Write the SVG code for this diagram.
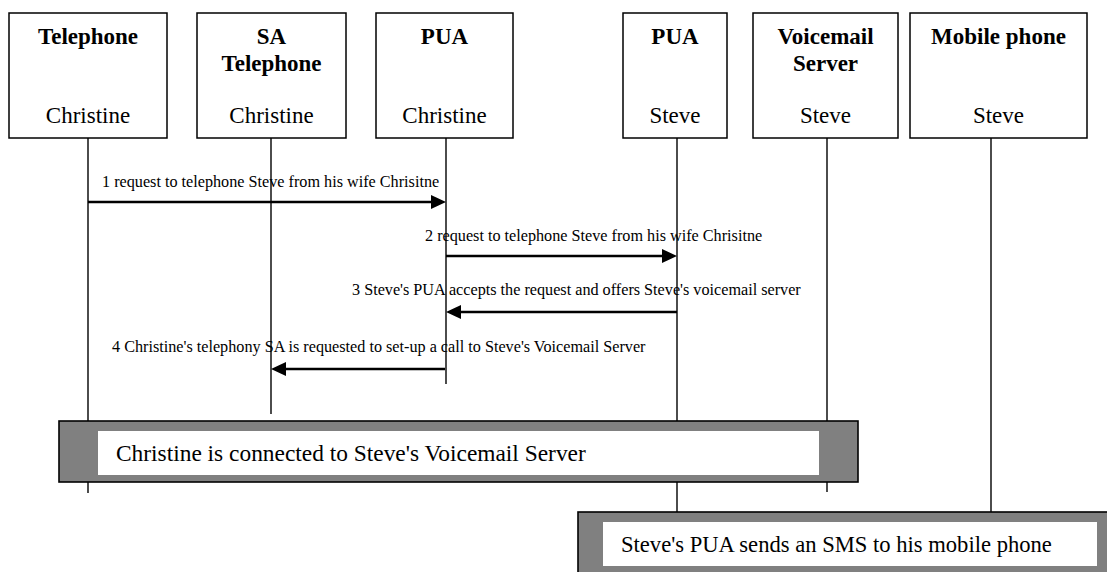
<svg xmlns="http://www.w3.org/2000/svg" width="1107" height="572" viewBox="0 0 1107 572">
  <style>
    .box { fill: #ffffff; stroke: #000000; stroke-width: 1.5; }
    .title { font-family: "Liberation Serif", "Times New Roman", serif; font-size: 23px; font-weight: bold; text-anchor: middle; fill: #000; }
    .who { font-family: "Liberation Serif", "Times New Roman", serif; font-size: 23px; text-anchor: middle; fill: #000; }
    .life { stroke: #000000; stroke-width: 1.4; fill: none; }
    .msg { stroke: #000000; stroke-width: 2.6; fill: none; marker-end: url(#head); }
    .lbl { font-family: "Liberation Serif", "Times New Roman", serif; font-size: 16.2px; fill: #000; }
    .band { fill: #808080; stroke: #000000; stroke-width: 1.6; }
    .bandin { fill: #ffffff; stroke: none; }
    .note { font-family: "Liberation Serif", "Times New Roman", serif; font-size: 23.4px; fill: #000; }
  </style>
  <defs>
    <marker id="head" markerUnits="userSpaceOnUse" markerWidth="16" markerHeight="15" viewBox="0 0 16 15" refX="3" refY="7" orient="auto">
      <path d="M0,0 L15,7 L0,14 z" fill="#000000"/>
    </marker>
  </defs>

  <!-- lifelines -->
  <g id="lifelines">
    <line class="life" x1="88" y1="138" x2="88" y2="493"/>
    <line class="life" x1="271" y1="138" x2="271" y2="414"/>
    <line class="life" x1="446" y1="138" x2="446" y2="384"/>
    <line class="life" x1="677" y1="138" x2="677" y2="512"/>
    <line class="life" x1="827" y1="138" x2="827" y2="492"/>
    <line class="life" x1="991" y1="138" x2="991" y2="512"/>
  </g>

  <!-- participants -->
  <g id="telephone-christine">
    <rect class="box" x="9" y="13" width="158" height="125"/>
    <text class="title" x="88" y="44">Telephone</text>
    <text class="who" x="88" y="123">Christine</text>
  </g>
  <g id="sa-telephone-christine">
    <rect class="box" x="197" y="13" width="149" height="125"/>
    <text class="title" x="271.5" y="44">SA</text>
    <text class="title" x="271.5" y="71">Telephone</text>
    <text class="who" x="271.5" y="123">Christine</text>
  </g>
  <g id="pua-christine">
    <rect class="box" x="376" y="13" width="137" height="125"/>
    <text class="title" x="444.5" y="44">PUA</text>
    <text class="who" x="444.5" y="123">Christine</text>
  </g>
  <g id="pua-steve">
    <rect class="box" x="623" y="13" width="104" height="125"/>
    <text class="title" x="675" y="44">PUA</text>
    <text class="who" x="675" y="123">Steve</text>
  </g>
  <g id="voicemail-steve">
    <rect class="box" x="753" y="13" width="145" height="125"/>
    <text class="title" x="825.5" y="44">Voicemail</text>
    <text class="title" x="825.5" y="71">Server</text>
    <text class="who" x="825.5" y="123">Steve</text>
  </g>
  <g id="mobile-steve">
    <rect class="box" x="910" y="13" width="177" height="125"/>
    <text class="title" x="998.5" y="44">Mobile phone</text>
    <text class="who" x="998.5" y="123">Steve</text>
  </g>

  <!-- messages -->
  <g id="connectors">
    <line class="msg" x1="88" y1="202" x2="434" y2="202"/>
    <text class="lbl" x="102" y="187">1 request to telephone Steve from his wife Chrisitne</text>

    <line class="msg" x1="446" y1="256" x2="665" y2="256"/>
    <text class="lbl" x="425" y="241">2 request to telephone Steve from his wife Chrisitne</text>

    <line class="msg" x1="677" y1="312" x2="458" y2="312"/>
    <text class="lbl" x="352" y="295">3 Steve's PUA accepts the request and offers Steve's voicemail server</text>

    <line class="msg" x1="445" y1="369" x2="283" y2="369"/>
    <text class="lbl" x="112" y="352">4 Christine's telephony SA is requested to set-up a call to Steve's Voicemail Server</text>
  </g>

  <!-- state bands -->
  <g id="connected-note">
    <rect class="band" x="59" y="421" width="799" height="61"/>
    <rect class="bandin" x="98" y="431" width="721" height="44"/>
    <text class="note" x="116" y="461">Christine is connected to Steve's Voicemail Server</text>
  </g>
  <g id="sms-note">
    <rect class="band" x="578" y="512" width="540" height="70"/>
    <rect class="bandin" x="603" y="522" width="494" height="44"/>
    <text class="note" x="621" y="552" style="font-size:22.6px">Steve's PUA sends an SMS to his mobile phone</text>
  </g>
</svg>
